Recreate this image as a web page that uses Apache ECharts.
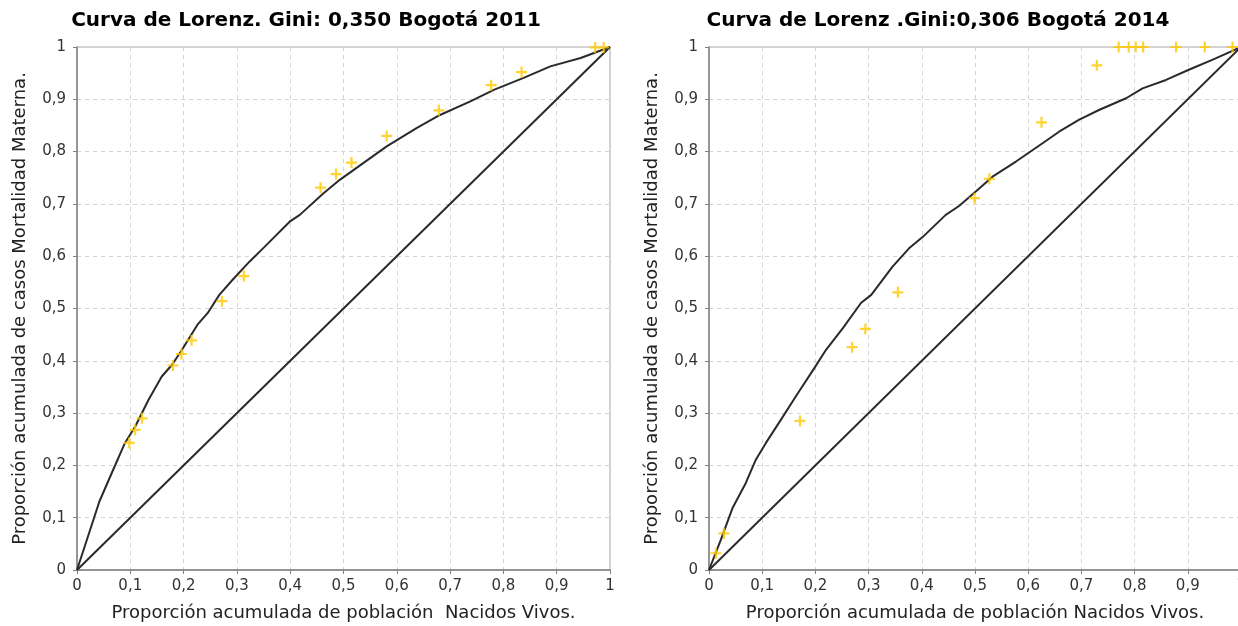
<!DOCTYPE html>
<html>
<head>
<meta charset="utf-8">
<title>Curvas de Lorenz - Mortalidad Materna Bogotá</title>
<script src="https://cdn.jsdelivr.net/npm/echarts@6/dist/echarts.min.js"></script>
<style>
  html, body { margin: 0; padding: 0; background: #ffffff; }
  #chart { width: 1238px; height: 626px; }
</style>
</head>
<body>
<div id="chart"></div>
<script>
// Titles and axis names
const titles = ['Curva de Lorenz. Gini: 0,350 Bogotá 2011', 'Curva de Lorenz .Gini:0,306 Bogotá 2014'];
const xNames = ['Proporción acumulada de población  Nacidos Vivos.', 'Proporción acumulada de población Nacidos Vivos.'];
const yName = 'Proporción acumulada de casos Mortalidad Materna.';

// Lorenz curve 2011: [proporción nacidos vivos, proporción casos]
const lorenz2011 = [[0,0],[0.042,0.131],[0.065,0.185],[0.090,0.243],[0.109,0.274],[0.134,0.325],[0.159,0.370],
  [0.178,0.392],[0.197,0.421],[0.226,0.469],[0.245,0.491],[0.267,0.526],[0.292,0.555],[0.324,0.590],[0.349,0.615],
  [0.399,0.666],[0.418,0.679],[0.462,0.720],[0.493,0.746],[0.537,0.778],[0.581,0.810],[0.637,0.845],[0.681,0.870],
  [0.738,0.896],[0.782,0.918],[0.838,0.941],[0.888,0.963],[0.945,0.979],[1,1]];

// Observed cumulative proportions 2011
const puntos2011 = [[0.098,0.243],[0.109,0.268],[0.122,0.290],[0.180,0.391],[0.196,0.413],[0.215,0.439],
  [0.272,0.514],[0.313,0.562],[0.457,0.731],[0.486,0.757],[0.515,0.779],[0.581,0.830],[0.679,0.879],
  [0.777,0.927],[0.834,0.952],[0.972,0.999],[0.988,0.999]];

// Lorenz curve 2014
const lorenz2014 = [[0,0],[0.022,0.057],[0.044,0.118],[0.069,0.166],[0.088,0.211],[0.107,0.243],[0.135,0.287],
  [0.167,0.338],[0.198,0.386],[0.220,0.421],[0.252,0.463],[0.286,0.511],[0.305,0.526],[0.345,0.580],[0.376,0.615],
  [0.402,0.637],[0.445,0.679],[0.470,0.696],[0.502,0.724],[0.533,0.752],[0.577,0.781],[0.627,0.816],[0.658,0.838],
  [0.696,0.861],[0.734,0.880],[0.784,0.902],[0.815,0.921],[0.859,0.937],[0.903,0.957],[0.947,0.976],[1,1]];

// Observed cumulative proportions 2014
const puntos2014 = [[0.013,0.032],[0.028,0.070],[0.171,0.285],[0.269,0.426],[0.294,0.461],[0.355,0.531],
  [0.499,0.711],[0.527,0.748],[0.625,0.856],[0.729,0.965],[0.770,1],[0.789,1],[0.802,1],[0.816,1],
  [0.878,1],[0.932,1],[0.984,1]];

// Line of perfect equality
const igualdad = [[0,0],[1,1]];

const FONT = 'DejaVu Sans';
const plusSymbol = 'path://M4,0H6V4H10V6H6V10H4V6H0V4H4Z';
const fmt = v => String(+v.toFixed(1)).replace('.', ',');

function xAxis(i) {
  return {
    type: 'value', gridIndex: i, min: 0, max: 1, interval: 0.1,
    name: xNames[i], nameLocation: 'middle', nameGap: 34,
    nameTextStyle: { fontFamily: FONT, fontSize: 18, color: '#222' },
    axisLine: { show: true, onZero: false, lineStyle: { color: '#808080', width: 1.5 } },
    axisTick: { show: true, length: 4, lineStyle: { color: '#808080' } },
    axisLabel: { fontFamily: FONT, fontSize: 15, color: '#333', margin: 9, formatter: fmt },
    splitLine: { show: true, lineStyle: { color: '#d4d4d4', type: [4, 4], width: 1 } }
  };
}
function yAxis(i) {
  return {
    type: 'value', gridIndex: i, min: 0, max: 1, interval: 0.1,
    name: yName, nameLocation: 'middle', nameGap: 48,
    nameTextStyle: { fontFamily: FONT, fontSize: 18, color: '#222' },
    axisLine: { show: true, onZero: false, lineStyle: { color: '#808080', width: 1.5 } },
    axisTick: { show: true, length: 4, lineStyle: { color: '#808080' } },
    axisLabel: { fontFamily: FONT, fontSize: 15, color: '#333', margin: 11, formatter: fmt },
    splitLine: { show: true, lineStyle: { color: '#d4d4d4', type: [4, 4], width: 1 } }
  };
}
function curve(data, i) {
  return { type: 'line', xAxisIndex: i, yAxisIndex: i, data, showSymbol: false, symbol: 'none',
    smooth: false, lineStyle: { color: '#2a2a2a', width: 2, join: 'round' }, z: 3, silent: true };
}
function points(data, i) {
  return { type: 'scatter', xAxisIndex: i, yAxisIndex: i, data, symbol: plusSymbol, symbolSize: 11,
    itemStyle: { color: '#FFC800' }, z: 4, silent: true, clip: false };
}

const chart = echarts.init(document.getElementById('chart'), null, { renderer: 'canvas' });
chart.setOption({
  animation: false,
  backgroundColor: '#ffffff',
  title: [
    { text: titles[0], left: 306, top: 11, textAlign: 'center', padding: 0,
      textStyle: { fontFamily: FONT, fontSize: 20, fontWeight: 'bold', color: '#000' } },
    { text: titles[1], left: 938, top: 11, textAlign: 'center', padding: 0,
      textStyle: { fontFamily: FONT, fontSize: 20, fontWeight: 'bold', color: '#000' } }
  ],
  grid: [
    { left: 77, top: 47, width: 533, height: 523, containLabel: false, outerBoundsMode: 'none',
      show: true, borderColor: '#a8a8a8', borderWidth: 1, backgroundColor: 'transparent' },
    { left: 709, top: 47, width: 532, height: 523, containLabel: false, outerBoundsMode: 'none',
      show: true, borderColor: '#a8a8a8', borderWidth: 1, backgroundColor: 'transparent' }
  ],
  xAxis: [xAxis(0), xAxis(1)],
  yAxis: [yAxis(0), yAxis(1)],
  series: [
    curve(igualdad, 0), curve(lorenz2011, 0), points(puntos2011, 0),
    curve(igualdad, 1), curve(lorenz2014, 1), points(puntos2014, 1)
  ]
});
</script>
</body>
</html>
